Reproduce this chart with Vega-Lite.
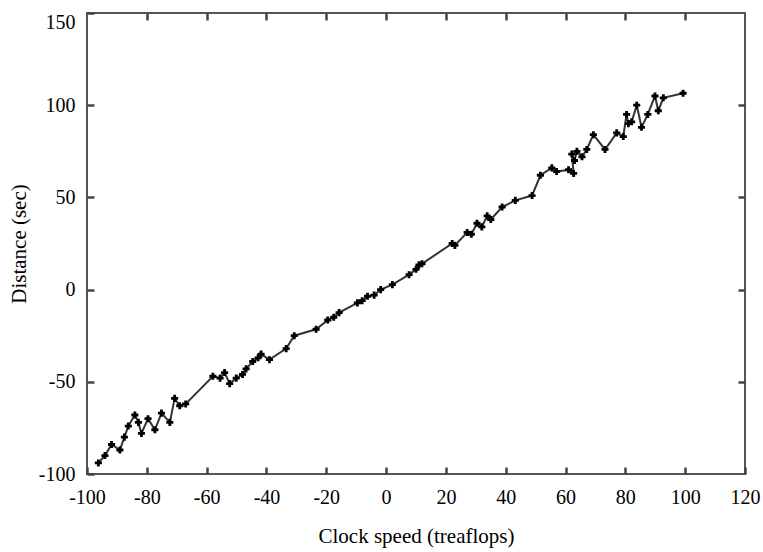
{
  "$schema": "https://vega.github.io/schema/vega-lite/v6.json",
  "autosize": {"type": "none"},
  "width": 658,
  "height": 461,
  "padding": {"left": 87, "top": 13, "right": 18, "bottom": 78},
  "background": "white",
  "config": {
    "view": {"stroke": "#555", "strokeWidth": 2},
    "axis": {
      "domain": false,
      "grid": false,
      "offset": -7,
      "tickSize": 7,
      "tickColor": "#444",
      "tickWidth": 2.5,
      "labelFont": "Liberation Serif",
      "labelFontSize": 20,
      "labelColor": "black",
      "labelExpr": "'' + datum.value",
      "titleFont": "Liberation Serif",
      "titleFontSize": 21,
      "titleFontWeight": "normal",
      "titleColor": "black"
    }
  },
  "data": {"values": [
    {"i": 1, "x": -96.2, "y": -94},
    {"i": 2, "x": -94, "y": -90},
    {"i": 3, "x": -91.8, "y": -84},
    {"i": 4, "x": -89, "y": -87},
    {"i": 5, "x": -87.5, "y": -80},
    {"i": 6, "x": -86.2, "y": -74},
    {"i": 7, "x": -84, "y": -68},
    {"i": 8, "x": -82.8, "y": -72},
    {"i": 9, "x": -81.8, "y": -78},
    {"i": 10, "x": -79.6, "y": -70},
    {"i": 11, "x": -77.3, "y": -76},
    {"i": 12, "x": -75.1, "y": -67},
    {"i": 13, "x": -72.3, "y": -72},
    {"i": 14, "x": -70.7, "y": -59},
    {"i": 15, "x": -69, "y": -63},
    {"i": 16, "x": -67, "y": -62},
    {"i": 17, "x": -57.9, "y": -47},
    {"i": 18, "x": -55.5, "y": -48},
    {"i": 19, "x": -54, "y": -45},
    {"i": 20, "x": -52.3, "y": -51},
    {"i": 21, "x": -50.1, "y": -48},
    {"i": 22, "x": -48, "y": -46},
    {"i": 23, "x": -46.8, "y": -43},
    {"i": 24, "x": -44.6, "y": -39},
    {"i": 25, "x": -42.8, "y": -37},
    {"i": 26, "x": -41.8, "y": -35},
    {"i": 27, "x": -39, "y": -38},
    {"i": 28, "x": -33.4, "y": -32},
    {"i": 29, "x": -30.7, "y": -25},
    {"i": 30, "x": -23.4, "y": -21.5},
    {"i": 31, "x": -19.5, "y": -16.5},
    {"i": 32, "x": -17.5, "y": -15},
    {"i": 33, "x": -15.7, "y": -12.5},
    {"i": 34, "x": -9.6, "y": -7.2},
    {"i": 35, "x": -8, "y": -6},
    {"i": 36, "x": -6.2, "y": -3.6},
    {"i": 37, "x": -4, "y": -3},
    {"i": 38, "x": -1.8, "y": 0},
    {"i": 39, "x": 2.1, "y": 2.7},
    {"i": 40, "x": 7.7, "y": 8.1},
    {"i": 41, "x": 10, "y": 11},
    {"i": 42, "x": 11, "y": 13.4},
    {"i": 43, "x": 12, "y": 14},
    {"i": 44, "x": 22.1, "y": 25},
    {"i": 45, "x": 23, "y": 24},
    {"i": 46, "x": 27.1, "y": 31},
    {"i": 47, "x": 28.5, "y": 30},
    {"i": 48, "x": 30.4, "y": 36},
    {"i": 49, "x": 32, "y": 34},
    {"i": 50, "x": 33.8, "y": 40},
    {"i": 51, "x": 35, "y": 38},
    {"i": 52, "x": 38.8, "y": 44.8},
    {"i": 53, "x": 43.2, "y": 48.4},
    {"i": 54, "x": 48.8, "y": 51},
    {"i": 55, "x": 51.6, "y": 62},
    {"i": 56, "x": 55.4, "y": 66},
    {"i": 57, "x": 57, "y": 64},
    {"i": 58, "x": 61, "y": 65},
    {"i": 59, "x": 62.7, "y": 63},
    {"i": 60, "x": 62.1, "y": 73.5},
    {"i": 61, "x": 63, "y": 70},
    {"i": 62, "x": 63.8, "y": 75},
    {"i": 63, "x": 65.5, "y": 72},
    {"i": 64, "x": 67.1, "y": 76},
    {"i": 65, "x": 69.3, "y": 84},
    {"i": 66, "x": 73.2, "y": 76},
    {"i": 67, "x": 77.1, "y": 85},
    {"i": 68, "x": 79.3, "y": 83},
    {"i": 69, "x": 80.4, "y": 95},
    {"i": 70, "x": 81, "y": 90},
    {"i": 71, "x": 82.1, "y": 91},
    {"i": 72, "x": 83.8, "y": 100},
    {"i": 73, "x": 85.4, "y": 88},
    {"i": 74, "x": 87.5, "y": 95},
    {"i": 75, "x": 89.9, "y": 105},
    {"i": 76, "x": 91, "y": 97},
    {"i": 77, "x": 92.7, "y": 104},
    {"i": 78, "x": 99.3, "y": 106.5}
  ]},
  "layer": [
    {
      "mark": {"type": "line", "color": "#333", "strokeWidth": 2},
      "encoding": {
        "x": {"field": "x", "type": "quantitative", "scale": {"domain": [-100, 120], "nice": false},
              "axis": {"orient": "bottom", "values": [-100, -80, -60, -40, -20, 0, 20, 40, 60, 80, 100, 120], "title": "Clock speed (treaflops)", "labelPadding": 13, "titlePadding": 18, "labelFlush": false}},
        "y": {"field": "y", "type": "quantitative", "scale": {"domain": [-100, 150], "nice": false},
              "axis": {"orient": "left", "values": [-100, -50, 0, 50, 100, 150], "title": "Distance (sec)", "labelPadding": 12, "titlePadding": 9, "labelFlush": false,
                       "labelOffset": {"condition": {"test": "datum.value == 150", "value": 9}, "value": 0}}},
        "order": {"field": "i", "type": "quantitative"}
      }
    },
    {
      "mark": {"type": "point", "shape": "cross", "filled": true, "color": "black", "size": 50, "opacity": 1},
      "encoding": {
        "x": {"field": "x", "type": "quantitative", "scale": {"domain": [-100, 120], "nice": false},
              "axis": {"orient": "top", "values": [-80, -60, -40, -20, 0, 20, 40, 60, 80, 100], "labels": false, "title": null}},
        "y": {"field": "y", "type": "quantitative", "scale": {"domain": [-100, 150], "nice": false},
              "axis": {"orient": "right", "values": [-50, 0, 50, 100], "labels": false, "title": null}}
      }
    }
  ],
  "resolve": {"axis": {"x": "independent", "y": "independent"}}
}
